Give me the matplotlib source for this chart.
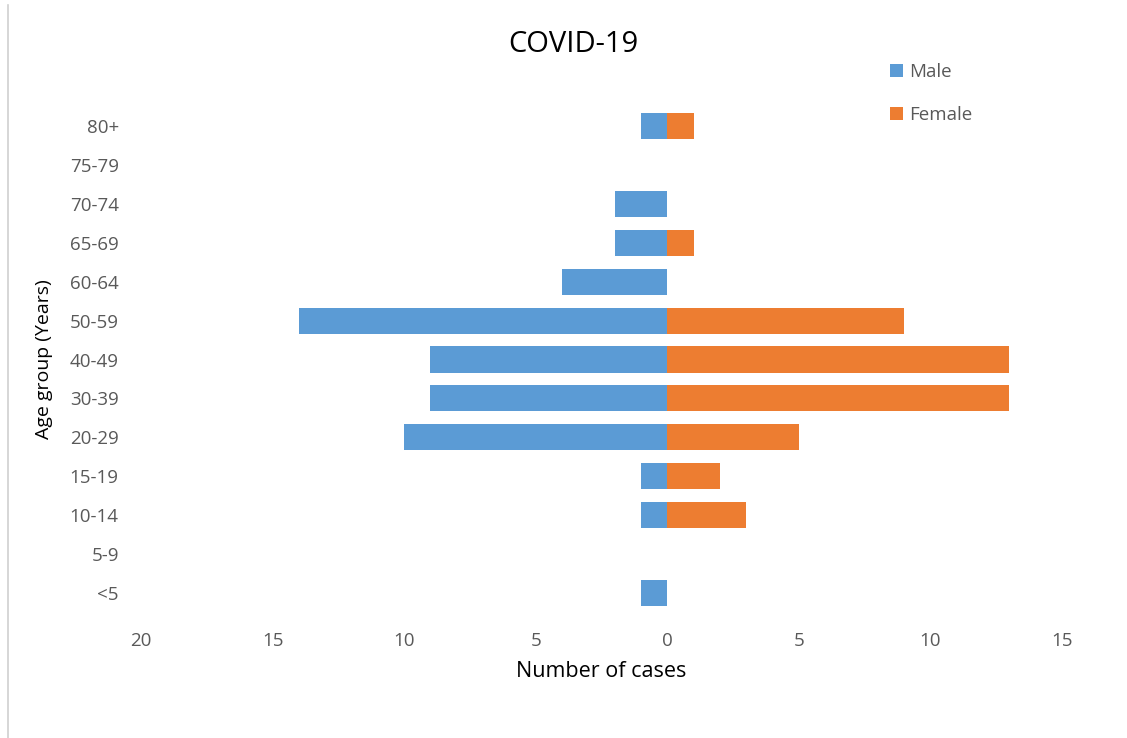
import matplotlib.pyplot as plt
from matplotlib.lines import Line2D
from matplotlib.ticker import FuncFormatter

age_groups = ['<5', '5-9', '10-14', '15-19', '20-29', '30-39', '40-49',
              '50-59', '60-64', '65-69', '70-74', '75-79', '80+']
male = [1, 0, 1, 1, 10, 9, 9, 14, 4, 2, 2, 0, 1]
female = [0, 0, 3, 2, 5, 13, 13, 9, 0, 1, 0, 0, 1]
x_ticks = [-20, -15, -10, -5, 0, 5, 10, 15]


def main():
    plt.rcParams['font.family'] = ['Open Sans', 'DejaVu Sans']
    fig = plt.figure(figsize=(11.27, 7.38), dpi=100)
    ax = fig.add_axes([0.1251, 0.170, 0.8172, 0.6857])
    y = range(len(age_groups))
    ax.barh(y, [-v for v in male], height=0.67, color='#5B9BD5', label='Male')
    ax.barh(y, female, height=0.67, color='#ED7D31', label='Female')

    ax.set_xlim(-20, 15)
    ax.set_ylim(-0.5, len(age_groups) - 0.5)
    ax.set_xticks(x_ticks)
    ax.xaxis.set_major_formatter(FuncFormatter(lambda v, p: f'{abs(int(v))}'))
    ax.set_yticks(list(y))
    ax.set_yticklabels(age_groups)
    ax.tick_params(axis='both', length=0, labelsize=13.5, colors='#595959')
    ax.tick_params(axis='x', pad=14)
    ax.tick_params(axis='y', pad=16)
    for s in ax.spines.values():
        s.set_visible(False)

    ax.set_xlabel('Number of cases', fontsize=15.5, color='black', labelpad=8)
    ax.set_ylabel('Age group (Years)', fontsize=14, color='black', labelpad=12)
    fig.text(0.5084, 0.94, 'COVID-19', ha='center', va='center', fontsize=21)

    fig.legend(loc='upper left', bbox_to_anchor=(0.775, 0.937), frameon=False,
               handlelength=0.7, handleheight=0.7, handletextpad=0.3,
               labelspacing=1.3, fontsize=13.5, labelcolor='#595959')

    fig.add_artist(Line2D([0.0075, 0.0075], [0.0, 0.993], color='#d0d0d0',
                          linewidth=1.2, transform=fig.transFigure))
    fig.savefig('out.png', dpi=100)


if __name__ == '__main__':
    main()
